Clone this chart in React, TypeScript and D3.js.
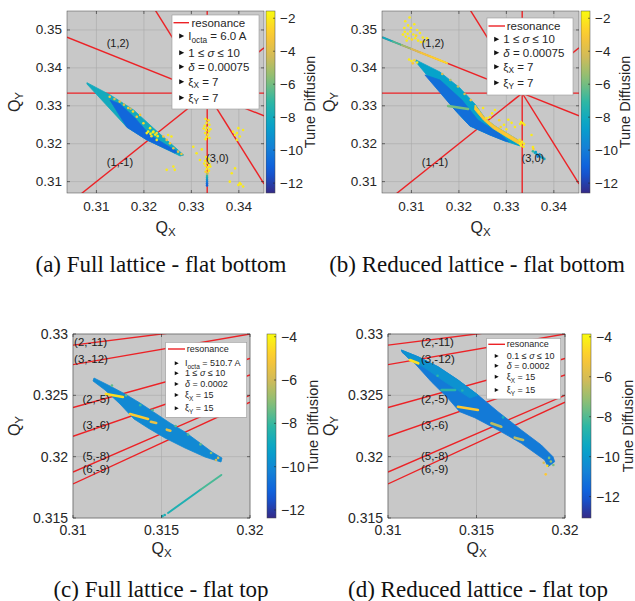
import React from "react";
import * as d3 from "d3";

type Seg = { t: string; sub?: boolean; it?: boolean };
type Dot = [number, number, number];
type Pt = [number, number];

// parula-like colour map (MATLAB default)
const parulaStops = ["#352a87", "#0f5cdd", "#1481d6", "#06a4ca", "#2eb7a4", "#87bf77", "#d1bb59", "#fec832", "#f9fb0e"];
const parula = d3.piecewise(d3.interpolateRgb, parulaStops);

// axis limits and ticks
const bottomDomX: Pt = [0.3038, 0.3453];
const bottomDomY: Pt = [0.307, 0.355];
const topDomX: Pt = [0.31, 0.32];
const topDomY: Pt = [0.315, 0.33];
const bottomTicksX = [0.31, 0.32, 0.33, 0.34];
const bottomTicksY = [0.31, 0.32, 0.33, 0.34, 0.35];
const topTicksX = [0.31, 0.315, 0.32];
const topTicksY = [0.315, 0.32, 0.325, 0.33];
const cDomA: Pt = [-12.6, -1.56];
const cDomB: Pt = [-12.6, -1.56];
const cDomC: Pt = [-12.37, -3.875];
const cDomD: Pt = [-13.07, -3.86];
const bottomCbTicks = [-2, -4, -6, -8, -10, -12];
const topCbTicks = [-4, -6, -8, -10, -12];

// resonance lines  m*Qx + n*Qy = p
const bottomRes = [[1, 0, 1 / 3], [0, 1, 1 / 3], [1, 2, 1], [2, 1, 1], [1, -1, 0]];
const topRes = [[2, -11, -3], [3, -12, -3], [2, -5, -1], [3, -6, -1], [5, -8, -1], [6, -9, -1]];

const resLabelsA: [string, number, number][] = [["(1,2)", 0.31215, 0.3465], ["(1,-1)", 0.3122, 0.3153], ["(3,0)", 0.3331, 0.3162]];
const resLabelsB: [string, number, number][] = [["(1,2)", 0.31215, 0.3465], ["(1,-1)", 0.3122, 0.3153], ["(3,0)", 0.3332, 0.3162]];
const resLabelsC: [string, number, number][] = [
  ["(2,-11)", 0.31006, 0.32932], ["(3,-12)", 0.31006, 0.32794], ["(2,-5)", 0.31053, 0.32468],
  ["(3,-6)", 0.31053, 0.32258], ["(5,-8)", 0.31053, 0.32008], ["(6,-9)", 0.31053, 0.31897],
];
const resLabelsD: [string, number, number][] = [
  ["(2,-11)", 0.31186, 0.32932], ["(3,-12)", 0.31186, 0.32794], ["(2,-5)", 0.31186, 0.32468],
  ["(3,-6)", 0.31186, 0.32258], ["(5,-8)", 0.31186, 0.32008], ["(6,-9)", 0.31186, 0.31897],
];

// footprints (outline)
const bodyA: Pt[] = [
  [0.308, 0.3361], [0.31291, 0.33286], [0.31783, 0.3289], [0.32204, 0.32408], [0.32836, 0.31704],
  [0.32764, 0.31677], [0.32063, 0.32099], [0.31642, 0.32434], [0.308, 0.33575],
];
const blueA: Pt[] = [
  [0.31284, 0.33154], [0.31642, 0.32434], [0.32063, 0.32099], [0.32652, 0.31756],
  [0.32716, 0.31783], [0.32126, 0.32231], [0.3181, 0.32679], [0.31495, 0.33049],
];
const bodyB: Pt[] = [
  [0.31095, 0.34209], [0.316, 0.33892], [0.32021, 0.3347], [0.32337, 0.33049], [0.32547, 0.32679],
  [0.32758, 0.32468], [0.33074, 0.32231], [0.33347, 0.3202], [0.33284, 0.31941], [0.32968, 0.32073],
  [0.32652, 0.32231], [0.32231, 0.32468], [0.31916, 0.3289], [0.31495, 0.3355], [0.31095, 0.34156],
];
const blueB: Pt[] = [
  [0.31284, 0.33813], [0.31916, 0.3289], [0.32231, 0.32468], [0.32652, 0.32231], [0.32968, 0.32073],
  [0.3305, 0.3205], [0.32863, 0.32257], [0.324, 0.32627], [0.32063, 0.33154], [0.316, 0.33682],
];
const yellowB: Pt[] = [
  [0.3234, 0.3302], [0.32547, 0.32679], [0.32758, 0.32468], [0.33074, 0.32231], [0.33347, 0.3202],
  [0.333, 0.3196], [0.3303, 0.3216], [0.3272, 0.324], [0.3252, 0.3262], [0.3233, 0.329],
];
const bodyC: Pt[] = [
  [0.311186, 0.326413], [0.31209, 0.325761], [0.312938, 0.325109], [0.313785, 0.324375], [0.314633, 0.32356],
  [0.31548, 0.322745], [0.316328, 0.322011], [0.317175, 0.321114], [0.317853, 0.320381], [0.318418, 0.319892],
  [0.318362, 0.319566], [0.317458, 0.319973], [0.316328, 0.320707], [0.315198, 0.321522], [0.314237, 0.322337],
  [0.313446, 0.323071], [0.312655, 0.324294], [0.311808, 0.325435], [0.31113, 0.326169],
];
const bodyD: Pt[] = [
  [0.310751, 0.328696], [0.311695, 0.328149], [0.312825, 0.327334], [0.313955, 0.32625], [0.315085, 0.325027],
  [0.316215, 0.323666], [0.317531, 0.322174], [0.318661, 0.320951], [0.319322, 0.319998], [0.319418, 0.31959],
  [0.31904, 0.319182], [0.318853, 0.319729], [0.317531, 0.32109], [0.316215, 0.322174], [0.314898, 0.323177],
  [0.314051, 0.323666], [0.31339, 0.324758], [0.312446, 0.326111], [0.311508, 0.327611], [0.310791, 0.328508],
];
const cyanD: Pt[] = [
  [0.310751, 0.328696], [0.311695, 0.328149], [0.312825, 0.327334], [0.313955, 0.32625], [0.315085, 0.325027],
  [0.314633, 0.324783], [0.31322, 0.326087], [0.31209, 0.327228], [0.31113, 0.328043],
];

// bright streaks across the footprints [qx, qy, diffusion]
const bandsB: Dot[][] = [[[0.31773, 0.32996, -6], [0.32194, 0.32917, -6]]];
const bandsC: Dot[][] = [
  [[0.31186, 0.32511, -4.5], [0.31282, 0.32486, -4.5]],
  [[0.31322, 0.32348, -4.8], [0.31424, 0.32307, -5]],
  [[0.3144, 0.32285, -5.5], [0.3147, 0.32275, -5.5]],
  [[0.3153, 0.3222, -5.5], [0.3155, 0.32212, -5.5]],
];
const bandsD: Dot[][] = [
  [[0.31124, 0.32788, -4.5], [0.31171, 0.32761, -4.5]],
  [[0.31395, 0.32407, -5], [0.31508, 0.3238, -5]],
  [[0.31584, 0.32272, -6.5], [0.3164, 0.32244, -6.5]],
  [[0.31716, 0.32155, -6.5], [0.31763, 0.32136, -6.5]],
  [[0.31303, 0.32544, -8.5], [0.31379, 0.32544, -8.5]],
];

// thin tune lines
const trailB: Dot[] = [
  [0.304, 0.348, -8.5], [0.306, 0.347, -7.5], [0.308, 0.346, -6], [0.31, 0.345, -4.5],
  [0.312, 0.344, -3.5], [0.314, 0.343, -3], [0.316, 0.342, -2.5], [0.3175, 0.34125, -2.5],
];
const trailC: Dot[] = [[0.31537, 0.31541, -8.6], [0.3172, 0.3173, -8.4], [0.31838, 0.31851, -7.2]];

// scattered particles [qx, qy, diffusion]
const dotsA: Dot[] = [
  [0.3185, 0.3271, -3], [0.3199, 0.3254, -2.5], [0.3213, 0.3241, -2], [0.322, 0.3232, -2], [0.3227, 0.3228, -2.5],
  [0.3241, 0.3219, -3], [0.3248, 0.321, -3.5], [0.3255, 0.3201, -3], [0.3262, 0.3188, -3.5], [0.3272, 0.3179, -4],
  [0.3279, 0.3173, -3.5], [0.3209, 0.3232, -2], [0.3214, 0.3226, -2], [0.3219, 0.323, -2], [0.3224, 0.3224, -2],
  [0.3229, 0.322, -2], [0.3216, 0.322, -2.5], [0.3206, 0.3228, -2], [0.3251, 0.3223, -2], [0.3258, 0.3219, -2],
  [0.3227, 0.321, -2], [0.3265, 0.3131, -2], [0.3262, 0.314, -2], [0.3248, 0.3131, -2], [0.3128, 0.3324, -3],
  [0.3149, 0.3311, -3.5], [0.3167, 0.3294, -3], [0.3177, 0.3285, -2.5], [0.3192, 0.3276, -3], [0.3138, 0.3318, -4],
  [0.3158, 0.3303, -4], [0.3172, 0.3292, -4.5],
  [0.333, 0.3265, -2], [0.3336, 0.3262, -2], [0.3332, 0.3255, -2], [0.3338, 0.325, -2], [0.3328, 0.3247, -2],
  [0.3334, 0.3242, -2], [0.3331, 0.3236, -2], [0.3337, 0.3233, -2], [0.3329, 0.3228, -2], [0.3335, 0.3224, -2],
  [0.3332, 0.3218, -2], [0.3338, 0.3215, -2], [0.333, 0.3212, -2], [0.3326, 0.324, -2], [0.334, 0.3238, -2],
  [0.3331, 0.3165, -2], [0.3336, 0.316, -2], [0.3329, 0.3155, -2], [0.3334, 0.315, -2], [0.3338, 0.3146, -2],
  [0.333, 0.3142, -2], [0.3335, 0.3138, -2], [0.3332, 0.3133, -2], [0.3337, 0.3129, -2], [0.333, 0.3126, -2.5],
  [0.3334, 0.3123, -3], [0.3327, 0.3148, -2], [0.334, 0.314, -2],
  [0.3333, 0.312, -5], [0.3333, 0.3115, -7], [0.3333, 0.311, -8], [0.3333, 0.3105, -9], [0.3333, 0.31, -10],
  [0.3333, 0.3095, -10.5], [0.3333, 0.309, -11],
  [0.3396, 0.3228, -2], [0.3402, 0.3219, -2], [0.3392, 0.3223, -2], [0.3388, 0.3232, -2], [0.3409, 0.3236, -2],
  [0.3399, 0.3241, -2], [0.3396, 0.321, -2], [0.3392, 0.3135, -2], [0.3381, 0.31, -2], [0.3402, 0.3096, -2],
  [0.3409, 0.3087, -2], [0.3399, 0.3091, -2], [0.3385, 0.3122, -2], [0.3404, 0.3093, -2],
  [0.3304, 0.3192, -2], [0.3311, 0.3175, -2], [0.3318, 0.3157, -2], [0.3322, 0.3185, -2],
];
const dotsB: Dot[] = [
  [0.3086, 0.3495, -2], [0.3092, 0.349, -2], [0.3098, 0.3496, -2], [0.3104, 0.3488, -2], [0.311, 0.3485, -2.5],
  [0.3088, 0.3482, -2], [0.3095, 0.3478, -2], [0.3101, 0.3475, -2.5], [0.3108, 0.3478, -2], [0.3114, 0.3472, -2],
  [0.309, 0.3472, -2], [0.312, 0.3468, -2], [0.3127, 0.347, -2.5], [0.3082, 0.3488, -2],
  [0.3087, 0.3523, -2], [0.3093, 0.3512, -2], [0.3096, 0.3533, -2], [0.3099, 0.3505, -2], [0.3106, 0.3515, -2],
  [0.3112, 0.35, -2], [0.3118, 0.3492, -2], [0.3085, 0.3505, -2], [0.3124, 0.348, -2], [0.3133, 0.3478, -2],
  [0.3095, 0.3422, -2], [0.31, 0.3418, -2], [0.3106, 0.342, -2.5], [0.3112, 0.3414, -2], [0.3103, 0.3412, -3],
  [0.3165, 0.3384, -4], [0.3182, 0.3368, -5], [0.3198, 0.3351, -4.5], [0.3212, 0.3331, -4], [0.3225, 0.3315, -3.5],
  [0.3251, 0.3294, -2], [0.3276, 0.3289, -2], [0.3265, 0.327, -2], [0.3285, 0.3262, -2.5], [0.3295, 0.325, -2],
  [0.33, 0.3238, -2], [0.327, 0.328, -2], [0.3242, 0.3284, -2.5], [0.3258, 0.3268, -2], [0.3288, 0.3244, -2.5],
  [0.3331, 0.3257, -2], [0.3335, 0.3254, -2], [0.3338, 0.325, -2], [0.3329, 0.3252, -2], [0.3304, 0.3263, -2],
  [0.3311, 0.3255, -2], [0.3318, 0.3244, -2],
  [0.3328, 0.321, -2], [0.3333, 0.3205, -2], [0.3337, 0.32, -2], [0.3331, 0.3195, -2], [0.3336, 0.3192, -2],
  [0.3329, 0.32, -2], [0.3353, 0.3223, -2],
  [0.3356, 0.318, -7], [0.336, 0.3176, -8], [0.3364, 0.3172, -9], [0.3368, 0.3169, -9.5], [0.3372, 0.3166, -9],
  [0.3376, 0.3163, -8.5], [0.338, 0.316, -8], [0.3362, 0.3178, -8.5], [0.337, 0.3172, -9], [0.3366, 0.3166, -10],
  [0.3356, 0.3191, -2], [0.3357, 0.3186, -2.5],
];
const dotsC: Dot[] = [
  [0.3122, 0.3258, -7.5], [0.313, 0.325, -7.5], [0.3145, 0.3238, -7.8], [0.3158, 0.3225, -7.5], [0.3165, 0.3218, -7.8],
  [0.3172, 0.321, -7.5], [0.3178, 0.3203, -7], [0.3182, 0.3199, -6], [0.3138, 0.3242, -8], [0.31808, 0.31973, -6],
  [0.31518, 0.31525, -8.6], [0.31505, 0.31515, -8.6],
];
const dotsD: Dot[] = [
  [0.319, 0.31926, -4.5], [0.3192, 0.3196, -7], [0.31934, 0.31932, -7.5], [0.31891, 0.31856, -5],
  [0.3191, 0.3199, -7.5], [0.3188, 0.3195, -6], [0.3128, 0.3266, -8.5], [0.3142, 0.3254, -8.8], [0.3165, 0.3232, -9],
];

// legend text
const legendA: Seg[][] = [
  [{ t: "I" }, { t: "octa", sub: true }, { t: " = 6.0 A" }],
  [{ t: "1 ≤ " }, { t: "σ", it: true }, { t: " ≤ 10" }],
  [{ t: "δ", it: true }, { t: " = 0.00075" }],
  [{ t: "ξ" }, { t: "X", sub: true }, { t: " = 7" }],
  [{ t: "ξ" }, { t: "Y", sub: true }, { t: " = 7" }],
];
const legendB: Seg[][] = legendA.slice(1);
const legendC: Seg[][] = [
  [{ t: "I" }, { t: "octa", sub: true }, { t: " = 510.7 A" }],
  [{ t: "1 ≤ " }, { t: "σ", it: true }, { t: " ≤ 10" }],
  [{ t: "δ", it: true }, { t: " = 0.0002" }],
  [{ t: "ξ" }, { t: "X", sub: true }, { t: " = 15" }],
  [{ t: "ξ" }, { t: "Y", sub: true }, { t: " = 15" }],
];
const legendD: Seg[][] = [
  [{ t: "0.1 ≤ " }, { t: "σ", it: true }, { t: " ≤ 10" }],
  [{ t: "δ", it: true }, { t: " = 0.0002" }],
  [{ t: "ξ" }, { t: "X", sub: true }, { t: " = 15" }],
  [{ t: "ξ" }, { t: "Y", sub: true }, { t: " = 15" }],
];

const FONT = "'Liberation Sans', Arial, Helvetica, sans-serif";
const RED = "#ec2226";

function Rich({ segs, x, y, size, anchor = "start", fill = "#262626" }: any) {
  let shift = 0;
  const parts = segs.map((s: Seg, i: number) => {
    const target = s.sub ? size * 0.32 : 0;
    const dy = target - shift;
    shift = target;
    return (
      <tspan key={i} dy={dy} fontSize={s.sub ? size * 0.72 : size} fontStyle={s.it ? "italic" : "normal"}>
        {s.t}
      </tspan>
    );
  });
  return (
    <text x={x} y={y} fontSize={size} fontFamily={FONT} fill={fill} textAnchor={anchor} dominantBaseline="central">
      {parts}
    </text>
  );
}

function Panel({ cfg }: any) {
  const x = d3.scaleLinear().domain(cfg.xDom).range([cfg.x0, cfg.x1]);
  const y = d3.scaleLinear().domain(cfg.yDom).range([cfg.y1, cfg.y0]);
  const cNorm = d3.scaleLinear().domain(cfg.cDom).range([0, 1]).clamp(true);
  const col = (v: number) => parula(cNorm(v));
  const cy = d3.scaleLinear().domain(cfg.cDom).range([cfg.y1, cfg.y0]);
  const poly = d3.line<Pt>().x((p) => x(p[0])).y((p) => y(p[1])).curve(d3.curveLinearClosed);
  const clipId = `clip-${cfg.id}`;
  const gradId = `grad-${cfg.id}`;
  const [xa, xb] = cfg.xDom;
  const [ya, yb] = cfg.yDom;
  const resSegs = cfg.res.map(([m, n, p]: number[]) =>
    n === 0 ? [[p / m, ya], [p / m, yb]] : [[xa, (p - m * xa) / n], [xb, (p - m * xb) / n]]
  );
  const tick = 3;
  const lg = cfg.legend;
  const [cb0, cb1] = cfg.cb;
  return (
    <g>
      <defs>
        <clipPath id={clipId}>
          <rect x={cfg.x0} y={cfg.y0} width={cfg.x1 - cfg.x0} height={cfg.y1 - cfg.y0} />
        </clipPath>
        <linearGradient id={gradId} x1="0" y1="1" x2="0" y2="0">
          {d3.range(0, 1.0001, 0.05).map((t) => (
            <stop key={t} offset={t} stopColor={parula(t)} />
          ))}
        </linearGradient>
      </defs>
      <rect x={cfg.x0} y={cfg.y0} width={cfg.x1 - cfg.x0} height={cfg.y1 - cfg.y0} fill="#c8c8c8" />
      {cfg.xTicks.map((t: number) => (
        <line key={"gx" + t} x1={x(t)} x2={x(t)} y1={cfg.y0} y2={cfg.y1} stroke="#a9a9a9" strokeWidth={0.6} />
      ))}
      {cfg.yTicks.map((t: number) => (
        <line key={"gy" + t} x1={cfg.x0} x2={cfg.x1} y1={y(t)} y2={y(t)} stroke="#a9a9a9" strokeWidth={0.6} />
      ))}
      <g clipPath={`url(#${clipId})`}>
        {resSegs.map((s: number[][], i: number) => (
          <line key={"r" + i} x1={x(s[0][0])} y1={y(s[0][1])} x2={x(s[1][0])} y2={y(s[1][1])} stroke={RED} strokeWidth={1.4} />
        ))}
        {cfg.bodies.map((b: any, i: number) => (
          <path key={"b" + i} d={poly(b.pts) || ""} fill={col(b.d)} stroke={col(b.d)} strokeWidth={0.8} strokeLinejoin="round" />
        ))}
        {cfg.bands.map((b: Dot[], i: number) => (
          <line key={"bd" + i} x1={x(b[0][0])} y1={y(b[0][1])} x2={x(b[1][0])} y2={y(b[1][1])}
            stroke={col((b[0][2] + b[1][2]) / 2)} strokeWidth={2.6} strokeLinecap="round" />
        ))}
        {cfg.trails.map((tr: Dot[], j: number) =>
          tr.slice(1).map((p: Dot, i: number) => (
            <line key={"t" + j + "-" + i} x1={x(tr[i][0])} y1={y(tr[i][1])} x2={x(p[0])} y2={y(p[1])}
              stroke={col((tr[i][2] + p[2]) / 2)} strokeWidth={2} strokeLinecap="round" />
          ))
        )}
        {cfg.dots.map((p: Dot, i: number) => (
          <circle key={"d" + i} cx={x(p[0])} cy={y(p[1])} r={1.3} fill={col(p[2])} />
        ))}
      </g>
      {cfg.resLabels.map(([s, qx, qy]: any) => (
        <text key={s} x={x(qx)} y={y(qy)} fontSize={cfg.labelFont} fontFamily={FONT} fill="#1a1a1a" dominantBaseline="central">
          {s}
        </text>
      ))}
      {/* box and ticks */}
      <rect x={cfg.x0} y={cfg.y0} width={cfg.x1 - cfg.x0} height={cfg.y1 - cfg.y0} fill="none" stroke="#4a4a4a" strokeWidth={0.5} />
      {cfg.xTicks.map((t: number) => (
        <g key={"tx" + t}>
          <line x1={x(t)} x2={x(t)} y1={cfg.y1} y2={cfg.y1 - tick} stroke="#262626" strokeWidth={0.6} />
          <line x1={x(t)} x2={x(t)} y1={cfg.y0} y2={cfg.y0 + tick} stroke="#262626" strokeWidth={0.6} />
          <text x={x(t)} y={cfg.xLabY} textAnchor="middle" dominantBaseline="central" fontSize={cfg.tickFont} fontFamily={FONT} fill="#262626">
            {String(t)}
          </text>
        </g>
      ))}
      {cfg.yTicks.map((t: number) => (
        <g key={"ty" + t}>
          <line x1={cfg.x0} x2={cfg.x0 + tick} y1={y(t)} y2={y(t)} stroke="#262626" strokeWidth={0.6} />
          <line x1={cfg.x1} x2={cfg.x1 - tick} y1={y(t)} y2={y(t)} stroke="#262626" strokeWidth={0.6} />
          <text x={cfg.x0 - 5} y={y(t)} textAnchor="end" dominantBaseline="central" fontSize={cfg.tickFont} fontFamily={FONT} fill="#262626">
            {String(t)}
          </text>
        </g>
      ))}
      <Rich segs={[{ t: "Q" }, { t: "X", sub: true }]} x={(cfg.x0 + cfg.x1) / 2} y={cfg.qxY} size={16} anchor="middle" />
      <g transform={`translate(${cfg.qyX},${(cfg.y0 + cfg.y1) / 2}) rotate(-90)`}>
        <Rich segs={[{ t: "Q" }, { t: "Y", sub: true }]} x={0} y={0} size={16} anchor="middle" />
      </g>
      {/* colour bar */}
      <rect x={cb0} y={cfg.y0} width={cb1 - cb0} height={cfg.y1 - cfg.y0} fill={`url(#${gradId})`} stroke="#4a4a4a" strokeWidth={0.5} />
      {cfg.cTicks.map((t: number) => (
        <g key={"ct" + t}>
          <line x1={cb1} x2={cb1 - 2} y1={cy(t)} y2={cy(t)} stroke="#262626" strokeWidth={0.6} />
          <text x={cb1 + 5} y={cy(t)} dominantBaseline="central" fontSize={cfg.tickFont} fontFamily={FONT} fill="#262626">
            {"\u2212" + Math.abs(t)}
          </text>
        </g>
      ))}
      <text transform={`translate(${cb1 + cfg.cbLabDx},${(cfg.y0 + cfg.y1) / 2}) rotate(-90)`} textAnchor="middle"
        dominantBaseline="central" fontSize={14.5} fontFamily={FONT} fill="#262626">
        Tune Diffusion
      </text>
      {/* legend */}
      <rect x={lg.box[0]} y={lg.box[1]} width={lg.box[2] - lg.box[0]} height={lg.box[3] - lg.box[1]} fill="#ffffff" stroke="#9a9a9a" strokeWidth={0.6} />
      <line x1={lg.lineX[0]} x2={lg.lineX[1]} y1={lg.rows[0]} y2={lg.rows[0]} stroke={RED} strokeWidth={1.4} />
      <text x={lg.resTextX} y={lg.rows[0]} fontSize={lg.font} fontFamily={FONT} fill="#262626" dominantBaseline="central">
        resonance
      </text>
      {cfg.legendRows.map((segs: Seg[], i: number) => {
        const ry = lg.rows[i + 1];
        const s = lg.font * 0.22;
        return (
          <g key={"lg" + i}>
            <path d={`M${lg.markX - s},${ry - s} L${lg.markX + s},${ry} L${lg.markX - s},${ry + s} Z`} fill="#111" />
            <Rich segs={segs} x={lg.textX} y={ry} size={lg.font} />
          </g>
        );
      })}
      <text x={cfg.capX} y={cfg.capY} textAnchor="middle" fontSize={23} fontFamily="'Liberation Serif', 'Times New Roman', serif" fill="#111">
        {cfg.caption}
      </text>
    </g>
  );
}

const panels = [
  {
    id: "a", x0: 67, x1: 264, y0: 11, y1: 193, cb: [266, 275], xDom: bottomDomX, yDom: bottomDomY, cDom: cDomA,
    xTicks: bottomTicksX, yTicks: bottomTicksY, cTicks: bottomCbTicks, res: bottomRes, resLabels: resLabelsA,
    labelFont: 11, tickFont: 13.5, xLabY: 206.5, qxY: 226.5, qyX: 13.5, cbLabDx: 35,
    bodies: [{ pts: bodyA, d: -8 }, { pts: blueA, d: -10.8 }], bands: [], trails: [], dots: dotsA,
    legendRows: legendA,
    legend: { box: [172, 15, 259, 109], rows: [22.7, 36, 52.7, 66.7, 81.7, 97.7], font: 11.5, lineX: [173.5, 189], resTextX: 191.5, markX: 181.7, textX: 188.3 },
    caption: "(a) Full lattice - flat bottom", capX: 161, capY: 272,
  },
  {
    id: "b", x0: 382, x1: 579, y0: 11, y1: 193, cb: [581, 590], xDom: bottomDomX, yDom: bottomDomY, cDom: cDomB,
    xTicks: bottomTicksX, yTicks: bottomTicksY, cTicks: bottomCbTicks, res: bottomRes, resLabels: resLabelsB,
    labelFont: 11, tickFont: 13.5, xLabY: 206.5, qxY: 226.5, qyX: 328.5, cbLabDx: 35,
    bodies: [{ pts: bodyB, d: -8.5 }, { pts: blueB, d: -10.5 }, { pts: yellowB, d: -3 }], bands: bandsB, trails: [trailB], dots: dotsB,
    legendRows: legendB,
    legend: { box: [487, 18, 573, 95], rows: [26, 39.3, 52.7, 66.7, 82.7], font: 11.5, lineX: [488.5, 505], resTextX: 506.7, markX: 496.7, textX: 503.3 },
    caption: "(b) Reduced lattice - flat bottom", capX: 477, capY: 272,
  },
  {
    id: "c", x0: 73, x1: 250, y0: 334, y1: 518, cb: [267, 276], xDom: topDomX, yDom: topDomY, cDom: cDomC,
    xTicks: topTicksX, yTicks: topTicksY, cTicks: topCbTicks, res: topRes, resLabels: resLabelsC,
    labelFont: 11.5, tickFont: 14, xLabY: 530, qxY: 547.5, qyX: 13.5, cbLabDx: 37,
    bodies: [{ pts: bodyC, d: -10 }], bands: bandsC, trails: [trailC], dots: dotsC,
    legendRows: legendC,
    legend: { box: [165.7, 342.3, 246.7, 417.3], rows: [349, 363.3, 373.3, 384, 395, 408.3], font: 9, lineX: [168, 185], resTextX: 186.7, markX: 176.7, textX: 185 },
    caption: "(c) Full lattice - flat top", capX: 161, capY: 597,
  },
  {
    id: "d", x0: 388, x1: 565, y0: 334, y1: 518, cb: [582, 591], xDom: topDomX, yDom: topDomY, cDom: cDomD,
    xTicks: topTicksX, yTicks: topTicksY, cTicks: topCbTicks, res: topRes, resLabels: resLabelsD,
    labelFont: 11.5, tickFont: 14, xLabY: 530, qxY: 547.5, qyX: 328.5, cbLabDx: 37,
    bodies: [{ pts: bodyD, d: -11 }, { pts: cyanD, d: -10.2 }], bands: bandsD, trails: [], dots: dotsD,
    legendRows: legendD,
    legend: { box: [486.7, 338.3, 560.7, 399], rows: [344.3, 356, 365.7, 376.7, 390], font: 9, lineX: [488.3, 505], resTextX: 506.7, markX: 496.7, textX: 506.7 },
    caption: "(d) Reduced lattice - flat top", capX: 478, capY: 597,
  },
];

export default function App() {
  return (
    <svg width={635} height={601} style={{ position: "absolute", left: 0, top: 0, background: "#fff" }}>
      <rect width={635} height={601} fill="#fff" />
      {panels.map((p) => (
        <Panel key={p.id} cfg={p} />
      ))}
    </svg>
  );
}
